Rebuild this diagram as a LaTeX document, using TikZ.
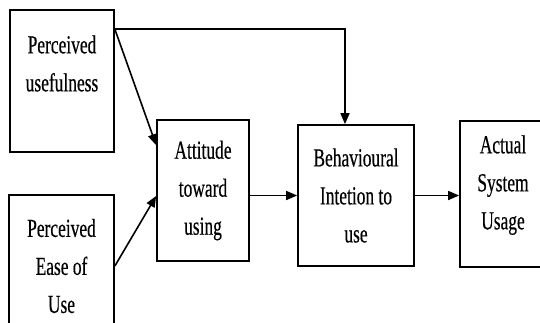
\documentclass[tikz,border=0pt]{standalone}
\usepackage{fontspec}
\setmainfont[FakeStretch=0.67,FakeBold=0.4]{Liberation Serif}
\usetikzlibrary{arrows.meta,calc}
\tikzset{
  box/.style={draw, line width=1.7pt, align=center, inner sep=0pt,
    font=\fontsize{26}{38}\selectfont},
  conn/.style={line width=1.6pt, -{Triangle[length=11pt,width=9pt]}}
}
\begin{document}
\begin{tikzpicture}[x=1pt,y=-1pt]
\useasboundingbox (0,0) rectangle (540,322);
\clip (0,0) rectangle (540,322);
\node[box, minimum width=104pt, minimum height=142pt] (pu) at (62,81) {Perceived\\usefulness\\[-14pt]\strut};
\node[box, minimum width=105pt, minimum height=142pt] (peou) at (61.5,266) {Perceived\\Ease of\\Use};
\node[box, minimum width=92pt, minimum height=141pt] (att) at (203,190.5) {Attitude\\toward\\using};
\node[box, minimum width=116pt, minimum height=141pt] (beh) at (356,195.5) {Behavioural\\Intetion to\\use};
\node[box, minimum width=86pt, minimum height=146pt] (act) at (503,194) {Actual\\System\\Usage\\[-26pt]\strut};
\coordinate (puo) at ($(pu.north east)+(0,20)$);
\coordinate (attin) at ($(att.north west)+(0,26)$);
\coordinate (attin2) at ($(att.west)+(0,5.5)$);
\coordinate (behtop) at ($(beh.north)+(-11,0)$);
\draw[conn] (puo) -- (attin);
\draw[conn] (peou.east) -- (attin2);
\draw[conn] (puo) -| (behtop);
\draw[conn] (att.east |- beh.west) -- (beh.west);
\draw[conn] (beh.east) -- (beh.east -| act.west);
\end{tikzpicture}
\end{document}
